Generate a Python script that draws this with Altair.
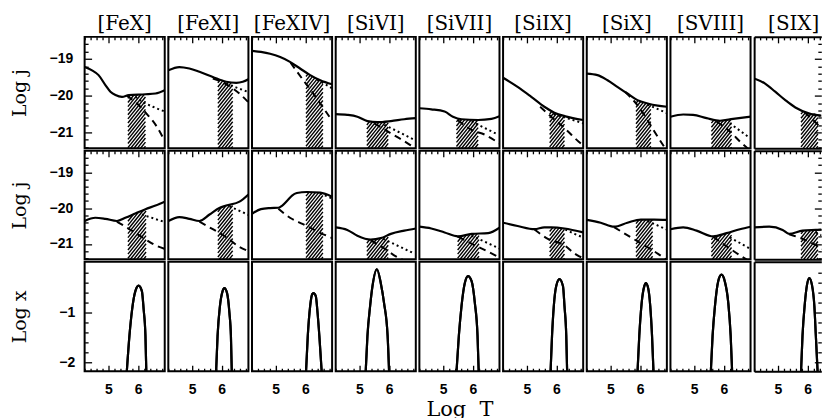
import altair as alt
import numpy as np
import pandas as pd

IONS = ["[FeX]", "[FeXI]", "[FeXIV]", "[SiVI]", "[SiVII]", "[SiIX]", "[SiX]", "[SVIII]", "[SIX]"]

# ---------------- row 1 : Log j ----------------
TOP_SOLID_X = [
    [4.2, 4.45, 4.67, 4.9, 5.07, 5.24, 5.46, 5.69, 6.25, 6.59, 6.9],
    [4.2, 4.57, 4.91, 5.25, 5.7, 6.15, 6.49, 6.71, 6.9],
    [4.2, 4.5, 4.81, 5.15, 5.48, 5.82, 6.16, 6.5, 6.9],
    [4.2, 4.59, 4.93, 5.27, 5.61, 6.06, 6.51, 6.9],
    [4.2, 4.6, 5.05, 5.33, 5.62, 6.18, 6.63, 6.9],
    [4.2, 4.69, 5.15, 5.59, 5.93, 6.3, 6.9],
    [4.2, 4.56, 4.9, 5.23, 5.57, 5.91, 6.25, 6.59, 6.9],
    [4.2, 4.63, 4.96, 5.42, 5.87, 6.31, 6.9],
    [4.2, 4.57, 4.91, 5.25, 5.59, 6.04, 6.71, 6.9],
]
TOP_SOLID_Y = [
    [-19.22, -19.31, -19.44, -19.71, -19.89, -19.98, -20.03, -19.98, -19.96, -19.94, -19.85],
    [-19.31, -19.22, -19.26, -19.35, -19.49, -19.62, -19.65, -19.62, -19.55],
    [-18.78, -18.81, -18.86, -18.95, -19.08, -19.26, -19.44, -19.58, -19.69],
    [-20.5, -20.52, -20.57, -20.69, -20.72, -20.69, -20.64, -20.61],
    [-20.34, -20.37, -20.43, -20.57, -20.64, -20.66, -20.63, -20.56],
    [-19.51, -19.76, -20.03, -20.3, -20.46, -20.56, -20.66],
    [-19.4, -19.44, -19.58, -19.76, -19.94, -20.12, -20.21, -20.27, -20.3],
    [-20.57, -20.51, -20.52, -20.61, -20.68, -20.63, -20.57],
    [-19.53, -19.67, -19.89, -20.12, -20.32, -20.48, -20.57, -20.6],
]
TOP_DASH_X = [
    [5.62, 5.95, 6.3, 6.6, 6.88],
    [5.7, 6.0, 6.37, 6.65, 6.9],
    [5.5, 5.93, 6.22, 6.5, 6.9],
    [5.5, 6.12, 6.73, 6.9],
    [5.49, 5.96, 6.41, 6.75, 6.9],
    [5.45, 5.82, 6.27, 6.75, 6.9],
    [5.5, 5.9, 6.2, 6.5, 6.9],
    [5.75, 6.2, 6.6, 6.9],
    [5.9, 6.3, 6.62, 6.9],
]
TOP_DASH_Y = [
    [-20.0, -20.2, -20.5, -20.8, -21.2],
    [-19.53, -19.62, -19.8, -19.98, -20.18],
    [-19.1, -19.58, -19.89, -20.21, -20.68],
    [-20.75, -21.05, -21.35, -21.45],
    [-20.66, -20.93, -21.06, -21.22, -21.3],
    [-20.3, -20.57, -20.88, -21.25, -21.35],
    [-19.9, -20.25, -20.6, -21.0, -21.5],
    [-20.7, -20.97, -21.29, -21.5],
    [-20.45, -20.75, -21.02, -21.25],
]
TOP_DOT_X = [
    [5.91, 6.14, 6.5, 6.9],
    [6.15, 6.5, 6.9],
    [6.4, 6.9],
    [5.84, 6.85],
    [5.96, 6.86],
    [5.9, 6.4, 6.9],
    [6.25, 6.9],
    [6.2, 6.88],
    [6.2, 6.9],
]
TOP_DOT_Y = [
    [-20.03, -20.16, -20.3, -20.43],
    [-19.67, -19.78, -19.9],
    [-19.56, -19.8],
    [-20.79, -21.2],
    [-20.7, -21.06],
    [-20.5, -20.62, -20.75],
    [-20.24, -20.47],
    [-20.75, -21.15],
    [-20.5, -20.65],
]
TOP_BAND = [[5.66, 6.25], [5.87, 6.37], [6.02, 6.59], [5.25, 5.97], [5.45, 6.18],
            [5.77, 6.27], [5.86, 6.36], [5.58, 6.26], [5.78, 6.35]]

# ---------------- row 2 : Log j ----------------
MID_SOLID_X = [
    [4.2, 4.56, 4.9, 5.29, 5.57, 5.91, 6.25, 6.59, 6.9],
    [4.2, 4.57, 4.91, 5.25, 5.59, 5.92, 6.15, 6.6, 6.9],
    [4.2, 4.5, 4.81, 5.09, 5.22, 5.4, 5.55, 5.71, 6.05, 6.5, 6.9],
    [4.2, 4.59, 4.93, 5.38, 5.72, 6.06, 6.51, 6.9],
    [4.2, 4.6, 5.05, 5.5, 5.96, 6.52, 6.9],
    [4.2, 4.69, 5.26, 5.59, 5.82, 6.27, 6.9],
    [4.2, 4.67, 5.12, 5.57, 6.02, 6.47, 6.9],
    [4.2, 4.63, 5.08, 5.64, 6.09, 6.54, 6.9],
    [4.2, 4.71, 5.16, 5.38, 5.83, 6.28, 6.73, 6.9],
]
MID_SOLID_Y = [
    [-20.36, -20.27, -20.3, -20.36, -20.27, -20.15, -20.03, -19.93, -19.82],
    [-20.36, -20.25, -20.3, -20.36, -20.18, -20.0, -19.93, -19.82, -19.62],
    [-20.16, -20.03, -20.0, -19.99, -19.93, -19.78, -19.65, -19.58, -19.55, -19.57, -19.68],
    [-20.54, -20.61, -20.77, -20.88, -20.84, -20.72, -20.63, -20.57],
    [-20.52, -20.57, -20.68, -20.79, -20.72, -20.7, -20.55],
    [-20.41, -20.5, -20.59, -20.54, -20.54, -20.57, -20.68],
    [-20.33, -20.41, -20.52, -20.41, -20.32, -20.32, -20.33],
    [-20.59, -20.54, -20.63, -20.79, -20.7, -20.59, -20.52],
    [-20.54, -20.52, -20.61, -20.72, -20.63, -20.61, -20.59, -20.59],
]
MID_DASH_X = [
    [5.29, 5.62, 6.13, 6.59, 6.9],
    [5.25, 5.7, 6.15, 6.6, 6.9],
    [5.09, 5.48, 5.92, 6.37, 6.9],
    [5.38, 5.84, 6.17, 6.6],
    [5.5, 6.07, 6.52, 6.9],
    [5.26, 5.71, 6.27, 6.61, 6.9],
    [5.12, 5.69, 6.14, 6.59, 6.9],
    [5.64, 6.2, 6.54, 6.8],
    [5.38, 5.8, 6.2, 6.62, 6.9],
]
MID_DASH_Y = [
    [-20.38, -20.54, -20.81, -21.04, -21.14],
    [-20.38, -20.59, -20.81, -21.09, -21.2],
    [-20.02, -20.27, -20.45, -20.64, -20.84],
    [-20.9, -21.13, -21.32, -21.5],
    [-20.8, -21.04, -21.22, -21.38],
    [-20.6, -20.86, -21.04, -21.27, -21.4],
    [-20.53, -20.82, -21.04, -21.27, -21.45],
    [-20.8, -21.13, -21.32, -21.45],
    [-20.73, -20.85, -21.0, -21.22, -21.4],
]
MID_DOT_X = [
    [6.13, 6.9],
    [6.26, 6.9],
    [6.5, 6.9],
    [5.8, 6.85],
    [5.96, 6.9],
    [6.3, 6.61, 6.9],
    [6.25, 6.9],
    [6.2, 6.9],
    [6.28, 6.73, 6.9],
]
MID_DOT_Y = [
    [-20.18, -20.39],
    [-19.95, -20.19],
    [-19.59, -19.73],
    [-20.86, -21.27],
    [-20.77, -21.13],
    [-20.6, -20.72, -20.82],
    [-20.36, -20.6],
    [-20.82, -21.14],
    [-20.68, -20.86, -20.92],
]
MID_BAND = [[5.66, 6.27], [5.87, 6.37], [6.02, 6.59], [5.25, 5.97], [5.49, 6.21],
            [5.77, 6.27], [5.86, 6.42], [5.58, 6.26], [5.78, 6.35]]

# ---------------- row 3 : Log x (ion fraction) ----------------
FRAC_X = [
    [5.62, 5.71, 5.80, 5.91, 6.02, 6.13, 6.19, 6.25, 6.28],
    [5.81, 5.86, 5.94, 6.03, 6.09, 6.18, 6.26, 6.31, 6.34],
    [6.02, 6.08, 6.16, 6.23, 6.27, 6.35, 6.41, 6.47, 6.55],
    [5.21, 5.27, 5.36, 5.44, 5.59, 5.72, 5.83, 5.95, 6.0],
    [5.45, 5.53, 5.62, 5.73, 5.84, 5.96, 6.07, 6.16, 6.2],
    [5.80, 5.85, 5.91, 5.99, 6.10, 6.22, 6.27, 6.33, 6.36],
    [5.91, 5.97, 6.05, 6.14, 6.19, 6.27, 6.34, 6.40, 6.45],
    [5.56, 5.62, 5.70, 5.81, 5.92, 6.03, 6.15, 6.23, 6.28],
    [5.78, 5.83, 5.91, 5.98, 6.06, 6.15, 6.23, 6.28, 6.34],
]
FRAC_Y = [
    [-2.2, -1.47, -0.94, -0.57, -0.46, -0.57, -0.94, -1.47, -2.2],
    [-2.2, -1.47, -0.87, -0.57, -0.51, -0.61, -1.01, -1.47, -2.2],
    [-2.2, -1.47, -0.87, -0.63, -0.61, -0.67, -1.01, -1.47, -2.2],
    [-2.2, -1.47, -0.87, -0.47, -0.13, -0.41, -0.81, -1.47, -2.2],
    [-2.2, -1.47, -0.87, -0.41, -0.27, -0.37, -0.81, -1.47, -2.2],
    [-2.2, -1.47, -0.87, -0.47, -0.33, -0.47, -0.87, -1.47, -2.2],
    [-2.2, -1.47, -0.81, -0.47, -0.41, -0.51, -0.87, -1.47, -2.2],
    [-2.2, -1.47, -0.87, -0.37, -0.24, -0.37, -0.81, -1.47, -2.2],
    [-2.2, -1.47, -0.81, -0.45, -0.31, -0.45, -0.87, -1.47, -2.2],
]

# ---------------- axes ----------------
X_MAJOR = [5, 6]
X_MINOR = [4.2, 4.4, 4.6, 4.8, 5.2, 5.4, 5.6, 5.8, 6.2, 6.4, 6.6, 6.8]
J_MAJOR = [-19, -20, -21]
J_MINOR = [-18.6, -18.8, -19.2, -19.4, -19.6, -19.8, -20.2, -20.4, -20.6, -20.8,
           -21.2, -21.4]
F_MAJOR = [-1, -2]
F_MINOR = [-0.2, -0.4, -0.6, -0.8, -1.2, -1.4, -1.6, -1.8]

X_LO, X_HI = 4.2, 6.9
JDOM = [-21.43, -18.4]
FDOM = [-2.18, 0.02]
W = 80.5
KX = W / (X_HI - X_LO)
W_LAST = 67.5          # last column is cut by the page edge, as in the original
HEIGHTS = [112, 109, 110]
SERIF = "DejaVu Serif"
SANS = "Liberation Sans"


def axis(orient, values, size, labels=False, title=None, pad=10, title_x=None,
         title_size=19, title_pad=3):
    kw = dict(orient=orient, values=values, tickSize=size, offset=-size, domain=False,
              grid=False, labels=labels, ticks=True, tickColor="black", tickWidth=1.3)
    if labels:
        kw.update(labelFont=SANS, labelFontSize=14, labelFontWeight="bold",
                  labelColor="black", labelPadding=pad)
    if title:
        kw.update(title=title, titleFont=SERIF, titleFontSize=title_size,
                  titleFontWeight="normal", titleColor="black", titlePadding=title_pad)
        if title_x is not None:
            kw.update(titleX=title_x)
    else:
        kw["title"] = None
    return alt.Axis(**kw)


def frame_axis(orient):
    return alt.Axis(orient=orient, values=[], ticks=False, labels=False, grid=False,
                    domain=True, domainColor="black", domainWidth=2, offset=0, title=None)


def hatch(sx, sy, band, ydom, h):
    ky = h / (ydom[1] - ydom[0])
    x0 = (band[0] - X_LO) * KX
    x1 = (band[1] - X_LO) * KX
    px = np.linspace(x0, x1, 500)
    top = (np.interp(px / KX + X_LO, sx, sy) - ydom[0]) * ky
    slope = 1.25
    step = 3.3
    rows = []
    for c in np.arange(x0 - top.max() / slope - step, x1 + step, step):
        yl = (px - c) * slope
        ok = np.where((yl >= 0) & (yl <= top))[0]
        if len(ok) < 2:
            continue
        a, b = ok[0], ok[-1]
        rows.append(dict(x=px[a] / KX + X_LO, y=yl[a] / ky + ydom[0],
                         x2=px[b] / KX + X_LO, y2=yl[b] / ky + ydom[0]))
    return pd.DataFrame(rows)


def line_df(xs, ys):
    return pd.DataFrame({"x": xs, "y": ys})


panels = []
for r in range(3):
    h = HEIGHTS[r]
    ydom = FDOM if r == 2 else JDOM
    ys = alt.Scale(domain=ydom, nice=False, zero=False)
    ymaj = F_MAJOR if r == 2 else J_MAJOR
    ymin = F_MINOR if r == 2 else J_MINOR
    ytitle = "Log x" if r == 2 else "Log j"
    for c in range(9):
        last = c == 8
        w = W_LAST if last else W
        xs = alt.Scale(domain=[X_LO, X_LO + w / KX], nice=False, zero=False)
        xorient = "bottom" if r == 2 else "top"
        xl = r == 2
        if r == 2 and c == 4:
            x_major = axis(xorient, X_MAJOR, 6, labels=True, title="Log\u00a0\u00a0T", pad=11,
                           title_size=21, title_pad=2)
        else:
            x_major = axis(xorient, X_MAJOR, 6, labels=xl, pad=11)
        x_minor = axis(xorient, X_MINOR, 3)
        if c == 0:
            y_major = axis("left", ymaj, 7, labels=True, title=ytitle,
                           pad=10 if r == 2 else 12, title_x=-62)
            y_minor = axis("left", ymin, 3.5)
        elif last:
            y_major = axis("right", ymaj, 7)
            y_minor = axis("right", ymin, 3.5)
        else:
            y_major = None
            y_minor = None

        def enc(ax_x, ax_y):
            return dict(x=alt.X("x:Q", scale=xs, axis=ax_x),
                        y=alt.Y("y:Q", scale=ys, axis=ax_y))

        if r == 2:
            df = line_df(FRAC_X[c], FRAC_Y[c])
            l1 = alt.Chart(df).mark_line(color="black", strokeWidth=2.2, clip=True,
                                         interpolate="monotone").encode(**enc(x_minor, y_minor))
            l2 = alt.Chart(df).mark_line(color="black", strokeWidth=2.2, clip=True,
                                         interpolate="monotone").encode(**enc(x_major, y_major))
            layers = [l1, l2]
            if last:
                l3 = alt.Chart(df).mark_line(opacity=0, clip=True).encode(
                    **enc(frame_axis("top"), frame_axis("left")))
                l4 = alt.Chart(df).mark_line(opacity=0, clip=True).encode(
                    **enc(frame_axis("bottom"), None))
                layers += [l3, l4]
        else:
            SX = TOP_SOLID_X if r == 0 else MID_SOLID_X
            SY = TOP_SOLID_Y if r == 0 else MID_SOLID_Y
            DX = TOP_DASH_X if r == 0 else MID_DASH_X
            DY = TOP_DASH_Y if r == 0 else MID_DASH_Y
            OX = TOP_DOT_X if r == 0 else MID_DOT_X
            OY = TOP_DOT_Y if r == 0 else MID_DOT_Y
            BD = TOP_BAND if r == 0 else MID_BAND
            hd = hatch(SX[c], SY[c], BD[c], ydom, h)
            hx = frame_axis("bottom") if last else None
            hy = frame_axis("left") if last else None
            lh = alt.Chart(hd).mark_rule(color="black", strokeWidth=1.4, clip=True).encode(
                x=alt.X("x:Q", scale=xs, axis=hx), y=alt.Y("y:Q", scale=ys, axis=hy),
                x2="x2:Q", y2="y2:Q")
            ls = alt.Chart(line_df(SX[c], SY[c])).mark_line(
                color="black", strokeWidth=2.2, clip=True, interpolate="monotone"
            ).encode(**enc(x_minor, y_minor))
            ld = alt.Chart(line_df(DX[c], DY[c])).mark_line(
                color="black", strokeWidth=2, strokeDash=[7, 5], clip=True, interpolate="monotone"
            ).encode(**enc(x_major, y_major))
            lo = alt.Chart(line_df(OX[c], OY[c])).mark_line(
                color="black", strokeWidth=2, strokeDash=[2, 3], clip=True, interpolate="monotone"
            ).encode(**enc(frame_axis("top") if last else None, None))
            layers = [lh, ls, ld, lo]
        p = alt.layer(*layers).resolve_axis(x="independent", y="independent")
        props = dict(width=w, height=h)
        if r == 0:
            props["title"] = alt.TitleParams(IONS[c], font=SERIF, fontSize=20,
                                             fontWeight="normal", color="black",
                                             offset=2, anchor="middle",
                                             dx=6 if last else 0)
        if last:
            props["view"] = alt.ViewBackground(stroke="transparent")
        panels.append(p.properties(**props))

chart = alt.concat(*panels, columns=9, spacing={"row": 2.5, "column": 3.1}, bounds="flush")
chart = chart.properties(padding={"left": 2, "top": 4, "right": 0, "bottom": 0},
                         background="white")
chart = chart.configure_view(stroke="black", strokeWidth=2)

chart.save("out.html", embed_options={"renderer": "svg", "actions": False})
